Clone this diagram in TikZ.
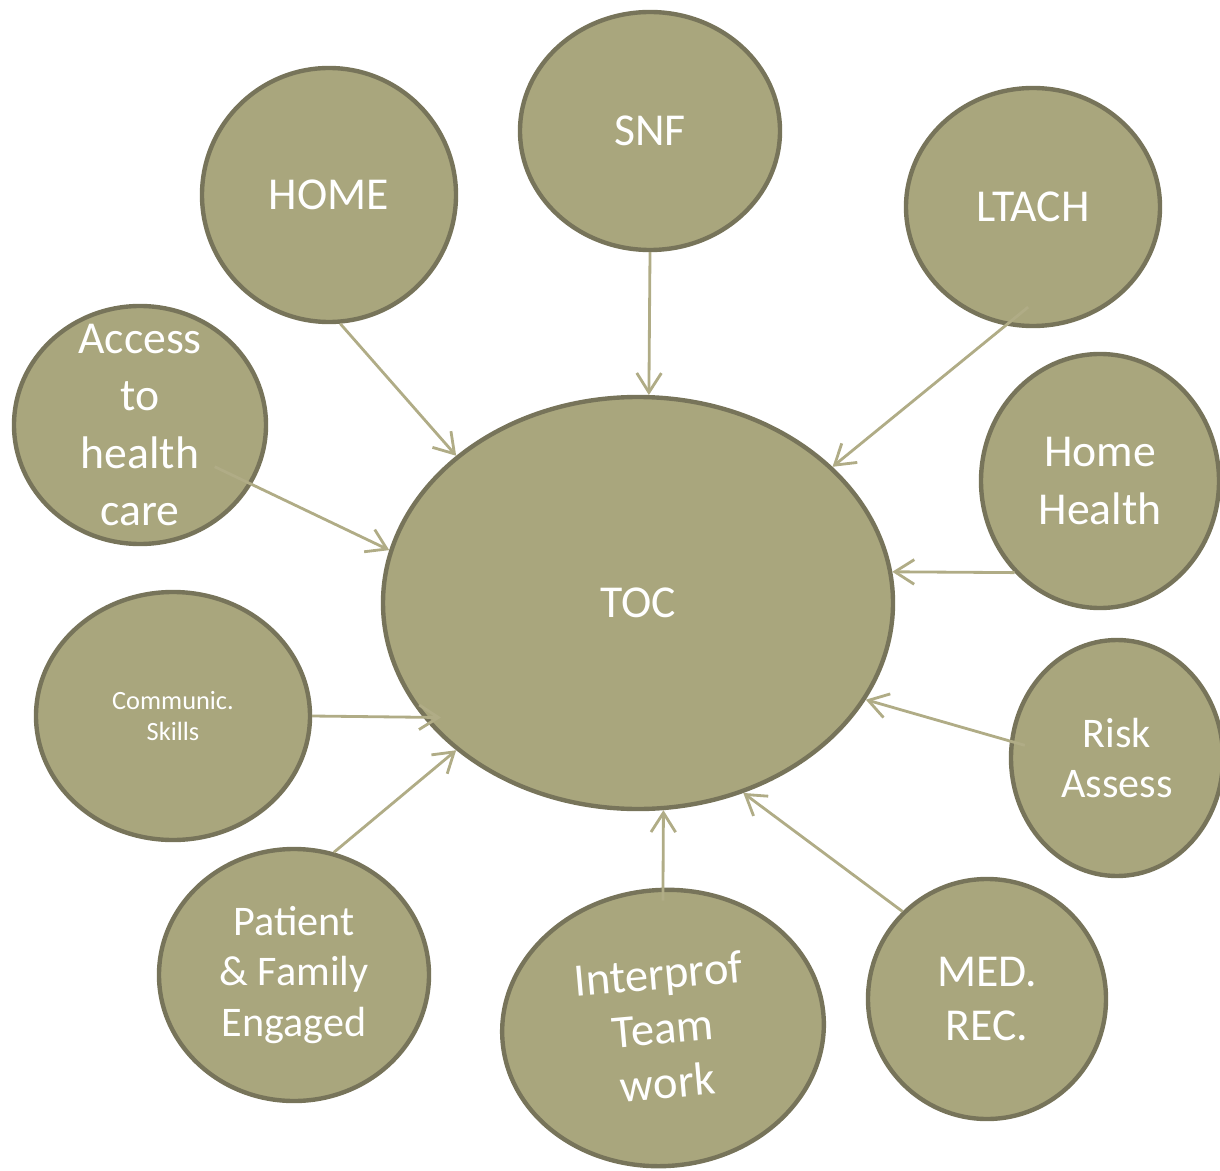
\documentclass[tikz,border=0pt]{standalone}
\usepackage{fontspec}
\setmainfont{Carlito}
\usetikzlibrary{shapes.geometric, arrows.meta, positioning}
\definecolor{khaki}{HTML}{A9A67D}
\definecolor{khakidark}{HTML}{77745A}
\definecolor{khakiline}{HTML}{B0AC86}
\tikzstyle{bubble} = [ellipse, 
			draw = khakidark, 
			fill = khaki, 
			line width = 2.5pt, 
			inner sep = 0pt]
\tikzstyle{btext} = [text = white, 
			align = center, 
			font = \fontsize{26pt}{32.5pt}\selectfont]
\tikzstyle{bsmall} = [btext, font = \fontsize{24pt}{29pt}\selectfont]
\tikzstyle{line} = [draw = khakiline, line width = 1.6pt, -{Straight Barb[length=11pt, width=14pt]}]

\begin{document}
\begin{tikzpicture}
	\useasboundingbox (0,0) rectangle (24.4,-23.42);
	\node [bubble, minimum width=10.2cm, minimum height=8.24cm, label={[btext]center:TOC}] (toc) at (12.76,-12.06) {};
	\node [bubble, minimum width=5.2cm, minimum height=4.76cm, label={[btext]center:SNF}] (snf) at (13.0,-2.62) {};
	\node [bubble, minimum width=5.08cm, minimum height=5.08cm, label={[btext]center:HOME}] (home) at (6.58,-3.9) {};
	\node [bubble, minimum width=5.08cm, minimum height=4.76cm, label={[btext]center:LTACH}] (ltach) at (20.66,-4.14) {};
	\node [bubble, minimum width=4.76cm, minimum height=5.08cm, label={[btext]center:Home\\Health}] (homehealth) at (22.0,-9.62) {};
	\node [bubble, minimum width=5.04cm, minimum height=4.76cm, label={[btext]center:Access\\to\\health\\care}] (access) at (2.8,-8.5) {};
	\node [bubble, minimum width=5.48cm, minimum height=4.96cm, label={[btext, font=\fontsize{15pt}{18pt}\selectfont]center:Communic.\\Skills}] (communic) at (3.46,-14.32) {};
	\node [bubble, minimum width=4.24cm, minimum height=4.72cm, label={[bsmall]center:Risk\\Assess}] (risk) at (22.34,-15.16) {};
	\node [bubble, minimum width=5.4cm, minimum height=5.04cm, label={[bsmall]center:Patient\\\& Family\\Engaged}] (patient) at (5.88,-19.5) {};
	\node [bubble, rotate=5, minimum width=6.44cm, minimum height=5.52cm, label={[btext, rotate=5, font=\fontsize{26.5pt}{31pt}\selectfont]center:Interprof\\Team\\work}] (interprof) at (13.26,-20.56) {};
	\node [bubble, minimum width=4.76cm, minimum height=4.8cm, label={[btext, font=\fontsize{26pt}{31pt}\selectfont]center:MED.\\REC.}] (medrec) at (19.74,-19.98) {};
	\path [line] (home.-85) -- (toc.141);
	\path [line] (snf.-90) -- (toc.87);
	\path [line, shorten <=-0.58cm] (ltach.-103) -- (toc.35);
	\path [line] (homehealth.-133) -- (toc.7);
	\path [line, shorten <=-0.82cm] (access.-28) -- (toc.168);
	\path [line, shorten >=-0.36cm] (communic.0) -- (toc.208);
	\path [line, shorten <=-0.31cm] (risk.171) -- (toc.-23);
	\path [line] (patient.72) -- (toc.219);
	\path [line, shorten <=-0.26cm] (interprof.85) -- (toc.-83);
	\path [line] (medrec.134) -- (toc.-61);
\end{tikzpicture}
\end{document}
